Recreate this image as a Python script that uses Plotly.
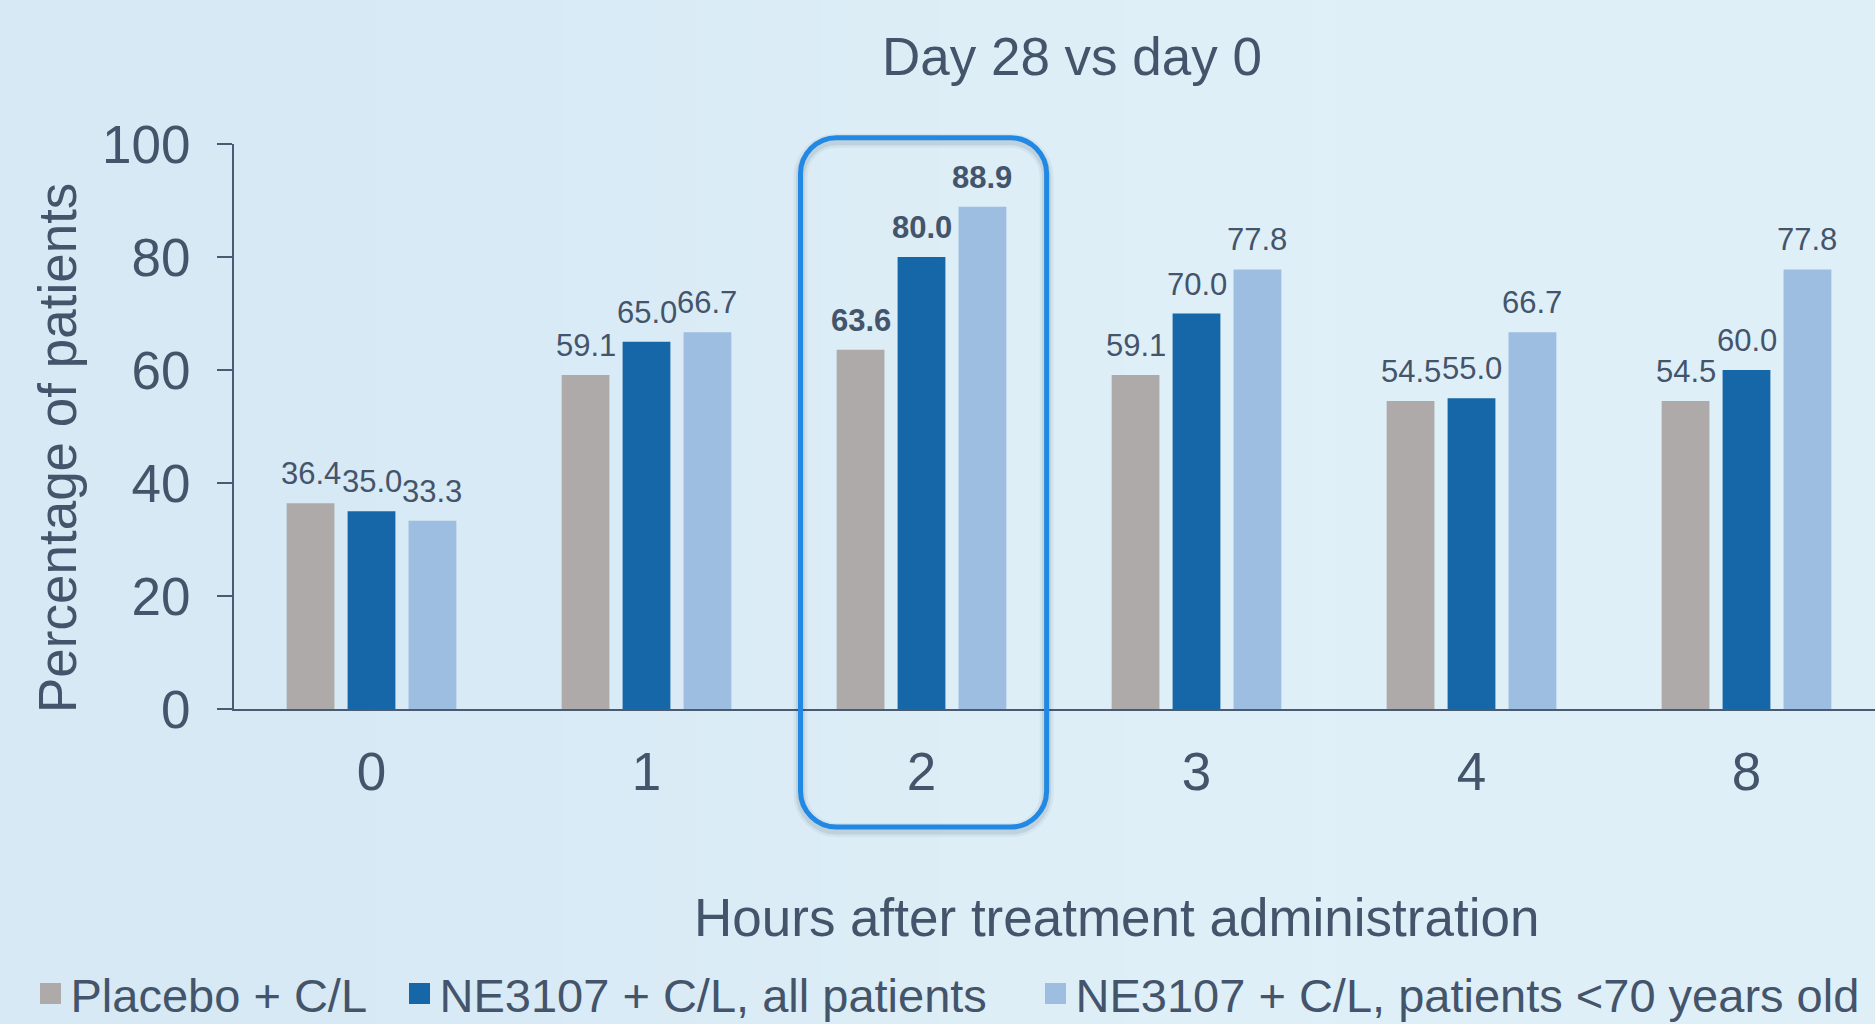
import base64
import struct
import zlib

import plotly.graph_objects as go

# ---------------- data ----------------
categories = ["0", "1", "2", "3", "4", "8"]
placebo = [36.4, 59.1, 63.6, 59.1, 54.5, 54.5]
ne3107_all = [35.0, 65.0, 80.0, 70.0, 55.0, 60.0]
ne3107_under70 = [33.3, 66.7, 88.9, 77.8, 66.7, 77.8]
series_names = [
    "Placebo + C/L",
    "NE3107 + C/L, all patients",
    "NE3107 + C/L, patients &lt;70 years old",
]
series_values = [placebo, ne3107_all, ne3107_under70]
series_colors = ["#ADAAA9", "#1667A8", "#9DBEE0"]
highlight_category = "2"
y_tick_values = [0, 20, 40, 60, 80, 100]

# ---------------- style ----------------
TXT = "#44546A"
FONT = "Liberation Sans, Arial, sans-serif"
W, H = 1875, 1024
M_L, M_R, M_T, M_B = 234, 0, 144, 315
CAT_PX = 275.0
BARGAP, BARGROUPGAP = 0.335, 0.216
x_range = [-0.5, -0.5 + (W - M_L - M_R) / CAT_PX]
y_range = [0, 100]
plot_w = W - M_L - M_R
plot_h = H - M_T - M_B

x_pos = list(range(len(categories)))
hi_idx = categories.index(highlight_category)
n_series = len(series_values)
slot = (1 - BARGAP) / n_series

fig = go.Figure()

for j, (name, vals, col) in enumerate(zip(series_names, series_values, series_colors)):
    fig.add_trace(go.Bar(
        x=x_pos, y=vals, name=name, legendgroup=name, showlegend=False,
        marker=dict(color=col, line=dict(width=0)),
        hoverinfo="x+y+name",
    ))
    # value labels above each bar
    for i, v in enumerate(vals):
        label = f"<b>{v:.1f}</b>" if categories[i] == highlight_category else f"{v:.1f}"
        fig.add_annotation(
            x=x_pos[i] + (j - (n_series - 1) / 2) * slot, y=v,
            xref="x", yref="y", text=label, showarrow=False,
            xanchor="center", yanchor="bottom", yshift=10,
            font=dict(size=31, color=TXT, family=FONT),
        )

# legend proxies (larger square symbols), one legend per entry for exact spacing
legend_ids = ["legend", "legend2", "legend3"]
for name, col, lid in zip(series_names, series_colors, legend_ids):
    fig.add_trace(go.Scatter(
        x=[None], y=[None], mode="markers", name=name, legendgroup=name,
        legend=lid,
        marker=dict(symbol="square", size=16, color=col, line=dict(color=col, width=5)),
    ))

# ---------------- highlight box ----------------
def to_px(xv):
    return (xv - x_range[0]) / (x_range[1] - x_range[0])


def to_py(yv):
    return (yv - y_range[0]) / (y_range[1] - y_range[0])


bx0, bx1 = to_px(hi_idx - 0.44), to_px(hi_idx + 0.455)
by0, by1 = to_py(-20.9), to_py(101.1)
rx, ry = 36 / plot_w, 36 / plot_h
k = 0.5523


def rounded_path(x0, y0, x1, y1, rx, ry):
    return (
        f"M {x0+rx},{y0} L {x1-rx},{y0} "
        f"C {x1-rx+k*rx},{y0} {x1},{y0+ry-k*ry} {x1},{y0+ry} "
        f"L {x1},{y1-ry} "
        f"C {x1},{y1-ry+k*ry} {x1-rx+k*rx},{y1} {x1-rx},{y1} "
        f"L {x0+rx},{y1} "
        f"C {x0+rx-k*rx},{y1} {x0},{y1-ry+k*ry} {x0},{y1-ry} "
        f"L {x0},{y0+ry} "
        f"C {x0},{y0+ry-k*ry} {x0+rx-k*rx},{y0} {x0+rx},{y0} Z"
    )


dy = 3 / plot_h
for wdt, alpha in [(14, 0.06), (9, 0.10)]:
    fig.add_shape(type="path", xref="paper", yref="paper",
                  path=rounded_path(bx0, by0 - dy, bx1, by1 - dy, rx, ry),
                  line=dict(color=f"rgba(40,60,90,{alpha})", width=wdt),
                  fillcolor="rgba(0,0,0,0)", layer="above")
fig.add_shape(type="path", xref="paper", yref="paper",
              path=rounded_path(bx0, by0, bx1, by1, rx, ry),
              line=dict(color="#2189E3", width=5),
              fillcolor="rgba(0,0,0,0)", layer="above")

# ---------------- subtle background gradient ----------------
def png_gradient(colors):
    w = len(colors)
    raw = b"\x00" + b"".join(bytes(c) for c in colors)

    def chunk(t, d):
        c = struct.pack(">I", len(d)) + t + d
        return c + struct.pack(">I", zlib.crc32(t + d) & 0xFFFFFFFF)
    png = b"\x89PNG\r\n\x1a\n"
    png += chunk(b"IHDR", struct.pack(">IIBBBBB", w, 1, 8, 2, 0, 0, 0))
    png += chunk(b"IDAT", zlib.compress(raw))
    png += chunk(b"IEND", b"")
    return "data:image/png;base64," + base64.b64encode(png).decode()


bg_colors = [(214, 233, 244), (217, 235, 246), (221, 238, 247), (224, 240, 248), (223, 239, 248)]
fig.add_layout_image(
    source=png_gradient(bg_colors), xref="paper", yref="paper",
    x=-M_L / plot_w, y=1 + M_T / plot_h, sizex=W / plot_w, sizey=H / plot_h,
    xanchor="left", yanchor="top", sizing="stretch", layer="below", opacity=1,
)

# ---------------- axis titles (positioned as in the reference) ----------------
fig.add_annotation(
    text="Hours after treatment administration",
    xref="paper", yref="paper", x=(1116 - M_L) / plot_w, y=(H - M_B - 917) / plot_h,
    xanchor="center", yanchor="middle", showarrow=False,
    font=dict(size=53, color=TXT, family=FONT),
)
fig.add_annotation(
    text="Percentage of patients", textangle=-90,
    xref="paper", yref="paper", x=(57 - M_L) / plot_w, y=(H - M_B - 448) / plot_h,
    xanchor="center", yanchor="middle", showarrow=False,
    font=dict(size=53, color=TXT, family=FONT),
)

legend_common = dict(orientation="h", xanchor="left",
                     y=(H - M_B - 994) / plot_h, yanchor="middle",
                     font=dict(size=47, color=TXT, family=FONT),
                     bgcolor="rgba(0,0,0,0)", itemclick=False, itemdoubleclick=False)
legend_marker_left = [40, 409, 1045]

fig.update_layout(
    width=W, height=H,
    margin=dict(l=M_L, r=M_R, t=M_T, b=M_B, pad=0, autoexpand=False),
    paper_bgcolor="#DAECF6", plot_bgcolor="rgba(0,0,0,0)",
    font=dict(family=FONT, color=TXT),
    title=dict(text="Day 28 vs day 0", x=(1072 - M_L) / plot_w, xref="paper",
               xanchor="center", y=1 - 56 / H, yref="container", yanchor="middle",
               font=dict(size=53, color=TXT, family=FONT)),
    barmode="group", bargap=BARGAP, bargroupgap=BARGROUPGAP,
    showlegend=True,
    legend=dict(x=(legend_marker_left[0] - 9.5 - M_L) / plot_w, **legend_common),
    legend2=dict(x=(legend_marker_left[1] - 9.5 - M_L) / plot_w, **legend_common),
    legend3=dict(x=(legend_marker_left[2] - 9.5 - M_L) / plot_w, **legend_common),
    xaxis=dict(range=x_range, tickmode="array", tickvals=x_pos, ticktext=categories,
               showline=True, linecolor="#4A5A72", linewidth=2, ticks="",
               showgrid=False, zeroline=False, automargin=False,
               ticklabelstandoff=15,
               tickfont=dict(size=53, color=TXT, family=FONT)),
    yaxis=dict(range=y_range, tickmode="array", tickvals=y_tick_values,
               showline=True, linecolor="#4A5A72", linewidth=2,
               ticks="outside", ticklen=15, tickwidth=2, tickcolor="#4A5A72",
               showgrid=False, zeroline=False, automargin=False,
               ticklabelstandoff=16,
               tickfont=dict(size=53, color=TXT, family=FONT)),
)

fig.write_html(
    "out.html",
    config={"displayModeBar": False},
    post_script="document.body.style.margin='0';document.body.style.overflow='hidden';",
)
